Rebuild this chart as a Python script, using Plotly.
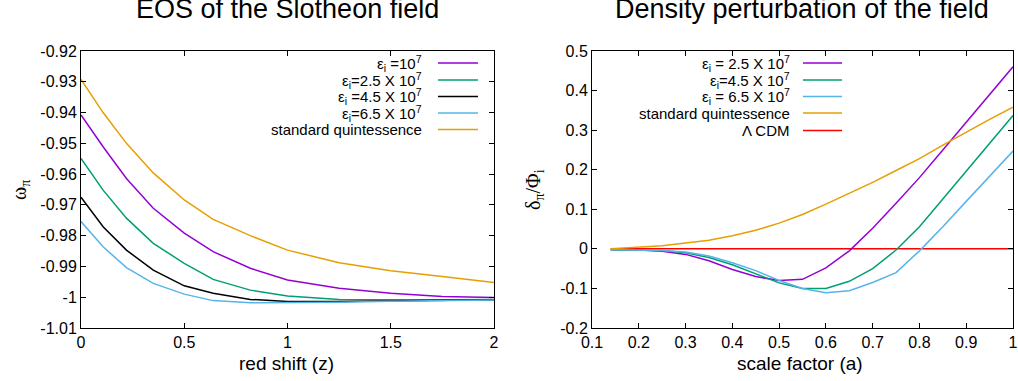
import plotly.graph_objects as go

# ---------------- data: left panel (EOS) ----------------
z = [0, 0.107, 0.22, 0.35, 0.5, 0.64, 0.82, 1.0, 1.25, 1.5, 1.75, 2.0]
w_e1 = [-0.9408, -0.9511, -0.9614, -0.9711, -0.9792, -0.9852, -0.9906, -0.9944, -0.9971, -0.9987, -0.9998, -1.0001]
w_e25 = [-0.9549, -0.9652, -0.9743, -0.9825, -0.9890, -0.9942, -0.9977, -0.9996, -1.0007, -1.0008, -1.0008, -1.0007]
w_e45 = [-0.9675, -0.9771, -0.9847, -0.9912, -0.9963, -0.9987, -1.0007, -1.0014, -1.0014, -1.0012, -1.0010, -1.0008]
w_e65 = [-0.9754, -0.9836, -0.9904, -0.9955, -0.9990, -1.0011, -1.0018, -1.0018, -1.0016, -1.0013, -1.0011, -1.0009]
w_q = [-0.9292, -0.9400, -0.9500, -0.9596, -0.9684, -0.9747, -0.9800, -0.9847, -0.9888, -0.9914, -0.9933, -0.9952]

# ---------------- data: right panel (density perturbation) ----------------
a = [0.14, 0.2, 0.25, 0.3, 0.35, 0.4, 0.45, 0.5, 0.55, 0.6, 0.65, 0.7, 0.75, 0.8, 0.85, 0.9, 0.95, 1.0]
d_e25 = [-0.002, -0.003, -0.006, -0.014, -0.030, -0.052, -0.070, -0.080, -0.077, -0.048, -0.005, 0.052, 0.115, 0.180, 0.250, 0.320, 0.390, 0.460]
d_e45 = [-0.002, -0.003, -0.004, -0.010, -0.022, -0.040, -0.062, -0.086, -0.100, -0.100, -0.082, -0.050, -0.003, 0.056, 0.126, 0.196, 0.266, 0.337]
d_e65 = [-0.002, -0.003, -0.004, -0.008, -0.018, -0.035, -0.055, -0.080, -0.100, -0.111, -0.106, -0.085, -0.060, -0.005, 0.056, 0.120, 0.183, 0.247]
d_q = [0.000, 0.004, 0.008, 0.015, 0.022, 0.033, 0.047, 0.065, 0.087, 0.113, 0.140, 0.168, 0.198, 0.228, 0.262, 0.295, 0.327, 0.358]
a_lcdm = [0.14, 1.0]
d_lcdm = [0.0, 0.0]

left_labels = ["ε<sub>i</sub> =10<sup>7</sup>", "ε<sub>i</sub>=2.5 X 10<sup>7</sup>",
               "ε<sub>i</sub> =4.5 X 10<sup>7</sup>", "ε<sub>i</sub>=6.5 X 10<sup>7</sup>",
               "standard quintessence"]
right_labels = ["ε<sub>i</sub> = 2.5 X 10<sup>7</sup>", "ε<sub>i</sub>=4.5 X 10<sup>7</sup>",
                "ε<sub>i</sub> = 6.5 X 10<sup>7</sup>", "standard quintessence", "Λ CDM"]

left_xticks = [0, 0.5, 1, 1.5, 2]
left_xtext = ["0", "0.5", "1", "1.5", "2"]
left_yticks = [-0.92, -0.93, -0.94, -0.95, -0.96, -0.97, -0.98, -0.99, -1.0, -1.01]
left_ytext = ["-0.92", "-0.93", "-0.94", "-0.95", "-0.96", "-0.97", "-0.98", "-0.99", "-1", "-1.01"]
right_xticks = [0.1, 0.2, 0.3, 0.4, 0.5, 0.6, 0.7, 0.8, 0.9, 1.0]
right_xtext = ["0.1", "0.2", "0.3", "0.4", "0.5", "0.6", "0.7", "0.8", "0.9", "1"]
right_yticks = [0.5, 0.4, 0.3, 0.2, 0.1, 0, -0.1, -0.2]
right_ytext = ["0.5", "0.4", "0.3", "0.2", "0.1", "0", "-0.1", "-0.2"]

PURPLE, GREEN, BLACK, BLUE, ORANGE, RED = "#9400d3", "#009e73", "#000000", "#56b4e9", "#e69f00", "#ff0000"

W, H = 1018, 381
FONT = "Liberation Sans"

fig = go.Figure()
left_series = [(w_e1, PURPLE), (w_e25, GREEN), (w_e45, BLACK), (w_e65, BLUE), (w_q, ORANGE)]
for ys, c in left_series:
    fig.add_trace(go.Scatter(x=z, y=ys, mode="lines", line=dict(color=c, width=1.5),
                             xaxis="x", yaxis="y", showlegend=False))
fig.add_trace(go.Scatter(x=a_lcdm, y=d_lcdm, mode="lines", line=dict(color=RED, width=1.5),
                         xaxis="x2", yaxis="y2", showlegend=False))
right_series = [(d_e25, PURPLE), (d_e45, GREEN), (d_e65, BLUE), (d_q, ORANGE)]
for ys, c in right_series:
    fig.add_trace(go.Scatter(x=a, y=ys, mode="lines", line=dict(color=c, width=1.5),
                             xaxis="x2", yaxis="y2", showlegend=False))

ydom = [1 - 328 / H, 1 - 51 / H]
ax_common = dict(showgrid=False, zeroline=False, showline=True, linecolor="#000000", linewidth=1,
                 mirror="allticks", ticks="inside", ticklen=5, tickcolor="#000000", automargin=False,
                 tickfont=dict(family=FONT, size=16, color="#000000"), tickmode="array")

fig.update_layout(
    template="none",
    width=W, height=H, margin=dict(l=0, r=0, t=0, b=0, pad=0),
    paper_bgcolor="white", plot_bgcolor="white",
    xaxis=dict(domain=[81 / W, 494 / W], range=[0, 2], tickvals=left_xticks, ticktext=left_xtext,
               anchor="y", **ax_common),
    yaxis=dict(domain=ydom, range=[-1.01, -0.92], tickvals=left_yticks, ticktext=left_ytext,
               anchor="x", **ax_common),
    xaxis2=dict(domain=[592 / W, 1013 / W], range=[0.1, 1.0], tickvals=right_xticks, ticktext=right_xtext,
                anchor="y2", **ax_common),
    yaxis2=dict(domain=ydom, range=[-0.2, 0.5], tickvals=right_yticks, ticktext=right_ytext,
                anchor="x2", **ax_common),
)

ann = []
shapes = []
def px(x, y):
    return x / W, 1 - y / H

# titles
for txt, cx in [("EOS of the Slotheon field", 287), ("Density perturbation of the field", 802)]:
    x, y = px(cx, 9)
    ann.append(dict(text=txt, x=x, y=y, xref="paper", yref="paper", showarrow=False,
                    xanchor="center", yanchor="middle", font=dict(family=FONT, size=27, color="#000000")))
# x axis titles
for txt, cx in [("red shift (z)", 286), ("scale factor (a)", 800)]:
    x, y = px(cx, 363)
    ann.append(dict(text=txt, x=x, y=y, xref="paper", yref="paper", showarrow=False,
                    xanchor="center", yanchor="middle", font=dict(family=FONT, size=19, color="#000000")))
# y axis titles
for txt, cx in [("ω<sub>π</sub>", 20), ("δ<sub>π</sub>/Φ<sub>i</sub>", 534)]:
    x, y = px(cx, 190)
    ann.append(dict(text=txt, x=x, y=y, xref="paper", yref="paper", showarrow=False, textangle=-90,
                    xanchor="center", yanchor="middle", font=dict(family="Liberation Serif", size=20, color="#000000")))

# legends
left_rows = [63, 80, 96.5, 113, 129.5]
left_colors = [PURPLE, GREEN, BLACK, BLUE, ORANGE]
for lab, c, ry in zip(left_labels, left_colors, left_rows):
    x, y = px(424, ry)
    ann.append(dict(text=lab, x=x, y=y, xref="paper", yref="paper", showarrow=False,
                    xanchor="right", yanchor="middle", font=dict(family=FONT, size=15, color="#000000")))
    x0, yy = px(438, ry)
    x1, _ = px(478, ry)
    shapes.append(dict(type="line", xref="paper", yref="paper", x0=x0, x1=x1, y0=yy, y1=yy,
                       line=dict(color=c, width=1.5)))
right_rows = [63, 80, 96.5, 113, 130.5]
right_colors = [PURPLE, GREEN, BLUE, ORANGE, RED]
for lab, c, ry in zip(right_labels, right_colors, right_rows):
    x, y = px(792, ry)
    ann.append(dict(text=lab, x=x, y=y, xref="paper", yref="paper", showarrow=False,
                    xanchor="right", yanchor="middle", font=dict(family=FONT, size=15, color="#000000")))
    x0, yy = px(803, ry)
    x1, _ = px(842, ry)
    shapes.append(dict(type="line", xref="paper", yref="paper", x0=x0, x1=x1, y0=yy, y1=yy,
                       line=dict(color=c, width=1.5)))

fig.update_layout(annotations=ann, shapes=shapes)
fig.write_html("out.html", config={"displayModeBar": False},
               post_script="document.body.style.margin='0';document.body.style.padding='0';")
